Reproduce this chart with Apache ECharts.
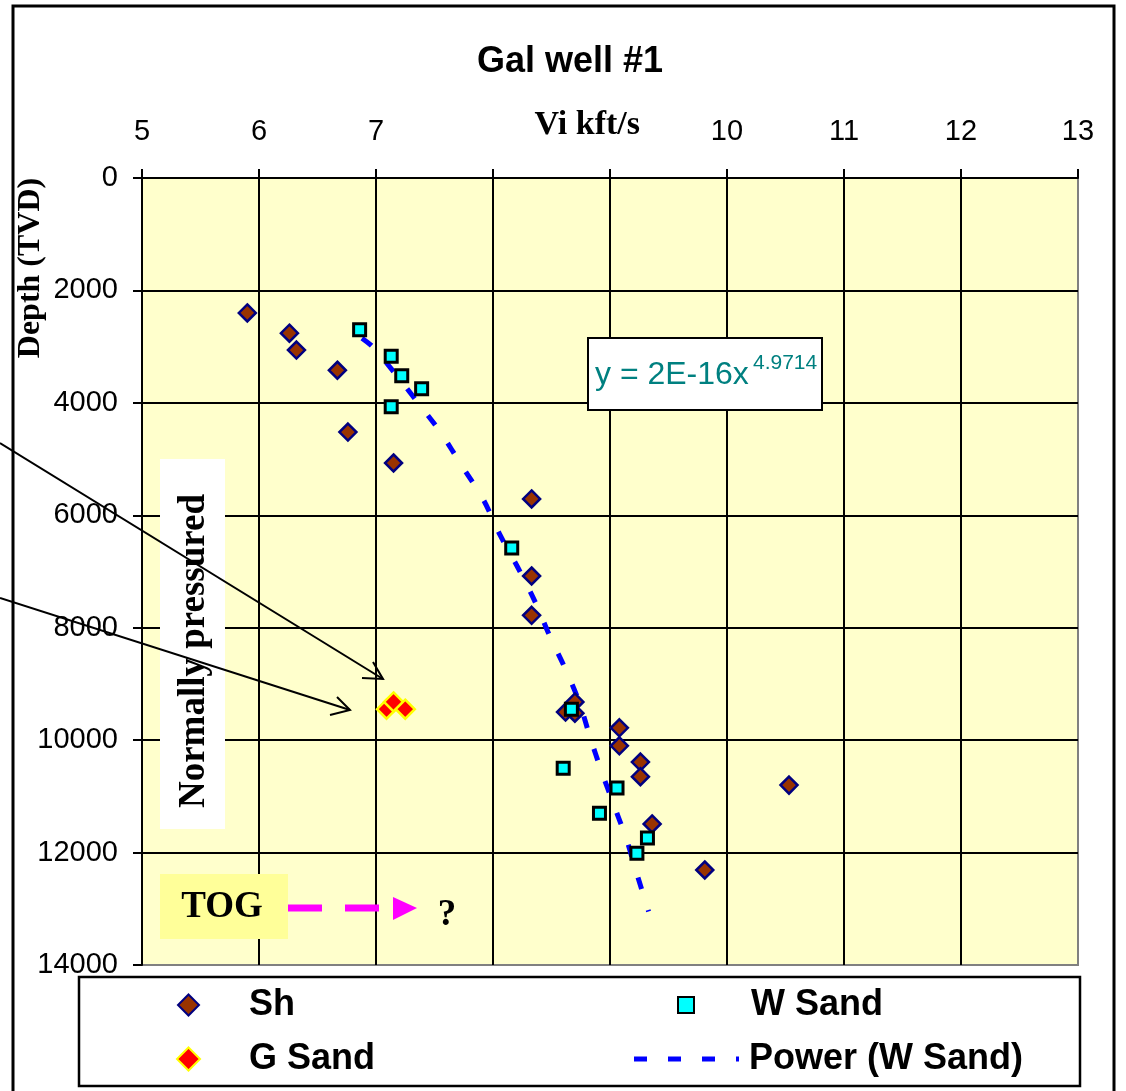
<!DOCTYPE html>
<html>
<head>
<meta charset="utf-8">
<script src="https://cdn.jsdelivr.net/npm/echarts@6/dist/echarts.min.js"></script>
<style>
  html, body { margin: 0; padding: 0; background: #ffffff; }
  #chart { width: 1126px; height: 1091px; }
</style>
</head>
<body>
<div id="chart"></div>
<script>
// Gal well #1 — interval velocity (kft/s) against true vertical depth (ft)
const shVelocity = [5.90, 6.26, 6.32, 6.67, 6.76, 7.15, 8.33, 8.33, 8.33, 8.62, 8.70, 8.70, 9.08, 9.08, 9.26, 9.26, 10.53, 9.36, 9.81];
const shDepth    = [2400, 2760, 3060, 3420, 4520, 5070, 5710, 7080, 7780, 9500, 9320, 9520, 9780, 10100, 10390, 10650, 10800, 11490, 12310];

const wSandVelocity = [6.86, 7.13, 7.22, 7.39, 7.13, 8.16, 8.67, 8.60, 9.06, 8.91, 9.32, 9.23];
const wSandDepth    = [2700, 3170, 3520, 3750, 4070, 6580, 9450, 10500, 10850, 11300, 11740, 12010];

const gSandVelocity = [7.09, 7.15, 7.25];
const gSandDepth    = [9450, 9320, 9450];

// power-law trend through the W Sand points
const trendVelocity = [6.88, 6.97, 7.16, 7.36, 7.55, 7.74, 7.92, 8.06, 8.21, 8.36, 8.49, 8.62, 8.74, 8.83, 8.93, 9.03, 9.14, 9.23, 9.33];
const trendDepth    = [2850, 3000, 3470, 4000, 4520, 5140, 5730, 6350, 6920, 7540, 8170, 8740, 9340, 9950, 10570, 11140, 11760, 12380, 13050];

const velocityTicks      = [5, 6, 7, 8, 9, 10, 11, 12, 13];
const velocityTickLabels = ['5', '6', '7', '', '', '10', '11', '12', '13'];
const depthTicks         = [0, 2000, 4000, 6000, 8000, 10000, 12000, 14000];

const pairs = (xs, ys) => xs.map((x, i) => [x, ys[i]]);

const SANS = '"Liberation Sans", Arial, sans-serif';
const SERIF = '"Liberation Serif", "Times New Roman", serif';

const chart = echarts.init(document.getElementById('chart'), null, { renderer: 'canvas' });

const legendText = (padLeft) => ({
  fontFamily: SANS, fontSize: 36, fontWeight: 'bold', color: '#000', padding: [0, 0, 0, padLeft]
});

// dashed stroke used as the trend-line key
const dashIcon = 'path://M0,0h13v5h-13z M34,0h13v5h-13z M68,0h13v5h-13z M102,0h3v5h-3z';

const option = {
  backgroundColor: '#ffffff',
  animation: false,
  grid: {
    left: 142, top: 178, width: 936, height: 787,
    show: true, backgroundColor: '#FFFFCC', borderColor: '#808080', borderWidth: 2
  },
  xAxis: {
    type: 'value', position: 'top',
    min: velocityTicks[0], max: velocityTicks[velocityTicks.length - 1], interval: 1,
    axisLine: { show: true, onZero: false, lineStyle: { color: '#000', width: 2 } },
    axisTick: { show: true, inside: false, length: 9, lineStyle: { color: '#000', width: 2 } },
    splitLine: { show: true, showMaxLine: false, lineStyle: { color: '#000', width: 2 } },
    axisLabel: {
      margin: 32, fontFamily: SANS, fontSize: 29, color: '#000',
      formatter: v => velocityTickLabels[velocityTicks.indexOf(v)] ?? ''
    }
  },
  yAxis: {
    type: 'value', inverse: true,
    min: depthTicks[0], max: depthTicks[depthTicks.length - 1], interval: 2000,
    axisLine: { show: true, onZero: false, lineStyle: { color: '#000', width: 2 } },
    axisTick: { show: true, inside: false, length: 9, lineStyle: { color: '#000', width: 2 } },
    splitLine: { show: true, showMaxLine: false, lineStyle: { color: '#000', width: 2 } },
    axisLabel: { margin: 24, fontFamily: SANS, fontSize: 29, color: '#000', formatter: v => String(v) }
  },
  legend: [
    { data: ['Sh'], left: 177, top: 987, padding: 0, itemWidth: 21, itemHeight: 21, textStyle: legendText(45) },
    { data: ['G Sand'], left: 176, top: 1041, padding: 0, itemWidth: 23, itemHeight: 23, textStyle: legendText(44) },
    { data: ['W Sand'], left: 677, top: 987, padding: 0, itemWidth: 16, itemHeight: 16, textStyle: legendText(52) },
    { data: [{ name: 'Power (W Sand)', icon: dashIcon }], left: 634, top: 1041, padding: 0, itemWidth: 105, itemHeight: 5,
      itemStyle: { color: '#0000FF', borderWidth: 0 }, textStyle: legendText(5) }
  ],
  series: [
    {
      name: 'Power (W Sand)', type: 'line', data: pairs(trendVelocity, trendDepth),
      symbol: 'none', smooth: 0.3, z: 2,
      lineStyle: { color: '#0000FF', width: 5, type: [12, 22] },
      itemStyle: { color: '#0000FF' }
    },
    {
      name: 'Sh', type: 'scatter', data: pairs(shVelocity, shDepth),
      symbol: 'diamond', symbolSize: 17, z: 3,
      itemStyle: { color: '#993300', borderColor: '#000080', borderWidth: 2.5, opacity: 1 }
    },
    {
      name: 'W Sand', type: 'scatter', data: pairs(wSandVelocity, wSandDepth),
      symbol: 'rect', symbolSize: 12, z: 4,
      itemStyle: { color: '#00FFFF', borderColor: '#000000', borderWidth: 3, opacity: 1 }
    },
    {
      name: 'G Sand', type: 'scatter', data: pairs(gSandVelocity, gSandDepth),
      symbol: 'diamond', symbolSize: 19, z: 4,
      itemStyle: { color: '#FF0000', borderColor: '#FFFF00', borderWidth: 2.5, opacity: 1 }
    }
  ],
  graphic: [
    // outer frame
    { type: 'rect', z: 0, shape: { x: 13, y: 6, width: 1101, height: 1120 },
      style: { fill: null, stroke: '#000', lineWidth: 3 } },
    // title and axis names
    { type: 'text', x: 570, y: 62, style: { text: 'Gal well #1', font: 'bold 36px ' + SANS, fill: '#000', align: 'center', verticalAlign: 'middle' } },
    { type: 'text', x: 640, y: 125, style: { text: 'Vi kft/s', font: 'bold 34px ' + SERIF, fill: '#000', align: 'right', verticalAlign: 'middle' } },
    { type: 'text', x: 31, y: 268, rotation: Math.PI / 2, style: { text: 'Depth (TVD)', font: 'bold 32px ' + SERIF, fill: '#000', align: 'center', verticalAlign: 'middle' } },
    // regression equation box
    { type: 'rect', z: 10, shape: { x: 588, y: 338, width: 234, height: 72 }, style: { fill: '#fff', stroke: '#000', lineWidth: 2 } },
    { type: 'text', z: 11, x: 595, y: 375, style: { text: 'y = 2E-16x', font: '32px ' + SANS, fill: '#008080', verticalAlign: 'middle' } },
    { type: 'text', z: 11, x: 753, y: 363, style: { text: '4.9714', font: '21px ' + SANS, fill: '#008080', verticalAlign: 'middle' } },
    // normally pressured band label
    { type: 'rect', z: 10, shape: { x: 160, y: 459, width: 65, height: 370 }, style: { fill: '#fff' } },
    { type: 'text', z: 11, x: 194, y: 651, rotation: Math.PI / 2, style: { text: 'Normally pressured', font: 'bold 37px ' + SERIF, fill: '#000', align: 'center', verticalAlign: 'middle' } },
    // pointers to the G Sand readings
    { type: 'line', z: 12, shape: { x1: 0, y1: 443, x2: 383, y2: 679 }, style: { stroke: '#000', lineWidth: 2 } },
    { type: 'polyline', z: 12, shape: { points: [[362, 678], [383, 679], [373, 662]] }, style: { stroke: '#000', lineWidth: 2, fill: null } },
    { type: 'line', z: 12, shape: { x1: 0, y1: 598, x2: 350, y2: 710 }, style: { stroke: '#000', lineWidth: 2 } },
    { type: 'polyline', z: 12, shape: { points: [[330, 715], [350, 710], [337, 697]] }, style: { stroke: '#000', lineWidth: 2, fill: null } },
    // top of gas marker
    { type: 'rect', z: 10, shape: { x: 160, y: 874, width: 128, height: 65 }, style: { fill: '#FFFF99' } },
    { type: 'text', z: 11, x: 222, y: 907, style: { text: 'TOG', font: 'bold 37px ' + SERIF, fill: '#000', align: 'center', verticalAlign: 'middle' } },
    { type: 'line', z: 11, shape: { x1: 288, y1: 908, x2: 392, y2: 908 }, style: { stroke: '#FF00FF', lineWidth: 7, lineDash: [34, 23] } },
    { type: 'polygon', z: 11, shape: { points: [[393, 897], [417, 908], [393, 920]] }, style: { fill: '#FF00FF' } },
    { type: 'text', z: 11, x: 447, y: 915, style: { text: '?', font: 'bold 37px ' + SERIF, fill: '#000', align: 'center', verticalAlign: 'middle' } },
    // legend frame
    { type: 'rect', z: 0, shape: { x: 79, y: 977, width: 1001, height: 109 }, style: { fill: '#fff', stroke: '#000', lineWidth: 2.5 } }
  ]
};

chart.setOption(option);
</script>
</body>
</html>
